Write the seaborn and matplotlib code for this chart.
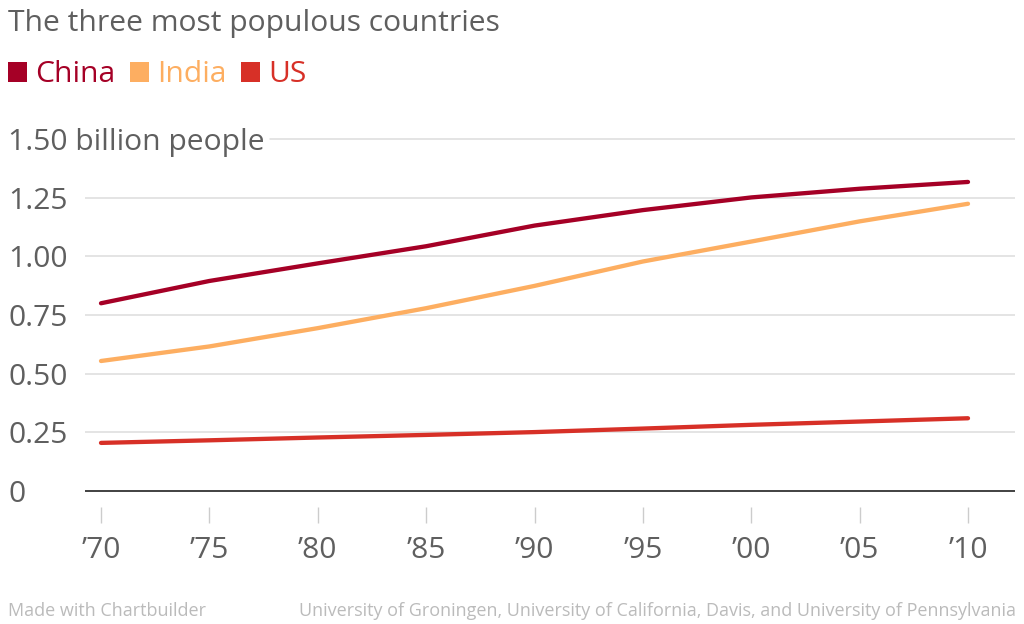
import matplotlib
matplotlib.use("Agg")
import matplotlib.pyplot as plt
import seaborn as sns
import pandas as pd
from matplotlib.patches import Patch

# ---- data ----
years = [1970, 1975, 1980, 1985, 1990, 1995, 2000, 2005, 2010]
china = [0.800, 0.895, 0.970, 1.043, 1.131, 1.197, 1.251, 1.288, 1.317]
india = [0.554, 0.616, 0.694, 0.779, 0.874, 0.978, 1.063, 1.149, 1.224]
us = [0.205, 0.216, 0.228, 0.239, 0.251, 0.266, 0.282, 0.296, 0.310]
countries = ["China", "India", "US"]
colors = ["#a50026", "#fdae61", "#d73027"]
y_ticks = [0, 0.25, 0.5, 0.75, 1.0, 1.25, 1.5]
y_tick_labels = ["0", "0.25", "0.50", "0.75", "1.00", "1.25", "1.50 billion people"]
x_tick_labels = ["\u201970", "\u201975", "\u201980", "\u201985", "\u201990",
                 "\u201995", "\u201900", "\u201905", "\u201910"]
title = "The three most populous countries"
credit = "Made with Chartbuilder"
source = "University of Groningen, University of California, Davis, and University of Pennsylvania"

df = pd.DataFrame({
    "year": years * 3,
    "value": china + india + us,
    "country": [countries[0]] * len(years) + [countries[1]] * len(years) + [countries[2]] * len(years),
})

sns.set_theme(style="white")
plt.rcParams["font.family"] = ["Open Sans", "DejaVu Sans"]

W, H = 1024, 624
fig = plt.figure(figsize=(W / 100, H / 100), dpi=100)

FS = 21.6

# axes placement in pixels
left_px, right_px, top_px, bottom_px = 85, 1015, 130, 523
y0_px, y150_px = 491, 139
ppu = (y0_px - y150_px) / 1.5
ymin = -(bottom_px - y0_px) / ppu
ymax = 1.5 + (y150_px - top_px) / ppu
x70_px, x10_px = 101, 968
ppy = (x10_px - x70_px) / 40
xmin = 1970 - (x70_px - left_px) / ppy
xmax = 2010 + (right_px - x10_px) / ppy

ax = fig.add_axes([left_px / W, 1 - bottom_px / H, (right_px - left_px) / W, (bottom_px - top_px) / H])
ax.set_xlim(xmin, xmax)
ax.set_ylim(ymin, ymax)

# gridlines
for v in y_ticks[1:-1]:
    ax.axhline(v, color="#dcdcdc", lw=1.1, zorder=1)
ax.axhline(1.5, xmin=(270 - left_px) / (right_px - left_px), xmax=1, color="#dcdcdc", lw=1.1, zorder=1)
ax.axhline(0, color="#333333", lw=1.3, zorder=2)

sns.lineplot(data=df, x="year", y="value", hue="country", hue_order=countries,
             palette=colors, linewidth=3.1, legend=False, ax=ax, zorder=3)
for ln in ax.get_lines():
    ln.set_solid_capstyle("round")
    ln.set_solid_joinstyle("round")

for s in ax.spines.values():
    s.set_visible(False)

ax.set_xlabel("")
ax.set_ylabel("")
ax.set_xticks(years)
ax.set_xticklabels(x_tick_labels)
ax.set_yticks(y_ticks)
ax.set_yticklabels(y_tick_labels)
ax.tick_params(axis="x", direction="in", length=11.5, width=1, color="#cccccc",
               labelsize=FS, labelcolor="#5f5f5f", pad=9, bottom=True)
ax.tick_params(axis="y", length=0, labelsize=FS, labelcolor="#5f5f5f",
               pad=(left_px - 8) * 0.72, left=True)
for lab in ax.get_yticklabels():
    lab.set_ha("left")

fig.text(8 / W, 1 - 24 / H, title, fontsize=FS, color="#5f5f5f", va="center", ha="left")

handles = [Patch(facecolor=c, edgecolor="none", label=n) for n, c in zip(countries, colors)]
fig.legend(handles=handles, loc="center left", bbox_to_anchor=(8 / W, 1 - 75 / H), ncol=3,
           frameon=False, fontsize=FS, handlelength=0.62, handleheight=0.62,
           handletextpad=0.27, columnspacing=0.5, labelcolor=colors,
           borderaxespad=0, borderpad=0)

fig.text(8 / W, 1 - 611 / H, credit, fontsize=13, color="#bbbbbb", va="center", ha="left")
fig.text(1016 / W, 1 - 611 / H, source, fontsize=13, color="#bbbbbb", va="center", ha="right")

fig.savefig("out.png", dpi=100)
